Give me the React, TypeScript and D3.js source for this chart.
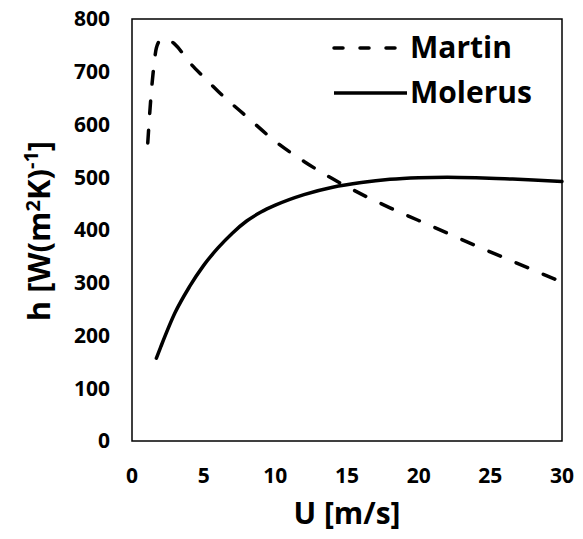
import React, { useEffect } from "react";
import * as d3 from "d3";

// Martin correlation (dashed)
const martinU = [1.1, 1.3, 1.5, 1.7, 2.0, 2.4, 3, 4, 5, 6, 8, 10, 12, 14, 16, 18, 20, 22, 24, 26, 28, 30];
const martinH = [565, 645, 705, 745, 760, 762, 752, 718, 690, 663, 615, 568, 530, 497, 468, 442, 418, 394, 370, 347, 324, 301];

// Molerus correlation (solid)
const molerusU = [1.7, 2, 3, 4, 5, 6, 7, 8, 9, 10, 12, 14, 16, 18, 20, 22, 24, 26, 28, 30];
const molerusH = [157, 178, 243, 292, 333, 366, 394, 417, 434, 447, 467, 481, 490, 496, 499, 500, 499, 497, 495, 492];

const xTicks = [0, 5, 10, 15, 20, 25, 30];
const yTicks = [0, 100, 200, 300, 400, 500, 600, 700, 800];

const W = 583;
const H = 539;
const FONT = "'Open Sans', sans-serif";

export default function App() {
  useEffect(() => {
    document.body.style.margin = "0";
  }, []);

  const x = d3.scaleLinear().domain([0, 30]).range([132, 562]);
  const y = d3.scaleLinear().domain([0, 800]).range([441, 19]);

  const line = d3
    .line<[number, number]>()
    .x((d) => x(d[0]))
    .y((d) => y(d[1]))
    .curve(d3.curveMonotoneX);

  const martin = line(martinU.map((u, i) => [u, martinH[i]] as [number, number]));
  const molerus = line(molerusU.map((u, i) => [u, molerusH[i]] as [number, number]));

  return (
    <svg width={W} height={H} style={{ display: "block", background: "#fff" }} fontFamily={FONT}>
      <rect x={132} y={19} width={430} height={422} fill="none" stroke="#000" strokeWidth={1.5} />

      {yTicks.map((t) => (
        <text key={"y" + t} x={110} y={y(t)} dy="0.35em" textAnchor="end" fontSize={21} fontWeight={700}>
          {t}
        </text>
      ))}
      {xTicks.map((t) => (
        <text key={"x" + t} x={x(t)} y={483} textAnchor="middle" fontSize={21} fontWeight={700}>
          {t}
        </text>
      ))}

      <path d={martin || ""} fill="none" stroke="#000" strokeWidth={3.5} strokeDasharray="12.5 17" strokeLinecap="round" />
      <path d={molerus || ""} fill="none" stroke="#000" strokeWidth={3.5} strokeLinecap="round" />

      {/* legend */}
      <line x1={334} x2={405} y1={48} y2={48} stroke="#000" strokeWidth={3.5} strokeDasharray="9 17" strokeLinecap="round" />
      <text x={410} y={58} fontSize={30} fontWeight={700}>Martin</text>
      <line x1={334} x2={407} y1={93} y2={93} stroke="#000" strokeWidth={3.5} />
      <text x={410} y={103} fontSize={30} fontWeight={700}>Molerus</text>

      <text x={347} y={524} textAnchor="middle" fontSize={30} fontWeight={700}>U [m/s]</text>
      <text transform="translate(50,231) rotate(-90)" textAnchor="middle" fontSize={31} fontWeight={700}>
        h [W(m<tspan fontSize={20} dy={-10}>2</tspan><tspan dy={10}>K)</tspan>
        <tspan fontSize={20} dy={-12}>-1</tspan><tspan dy={12}>]</tspan>
      </text>
    </svg>
  );
}
